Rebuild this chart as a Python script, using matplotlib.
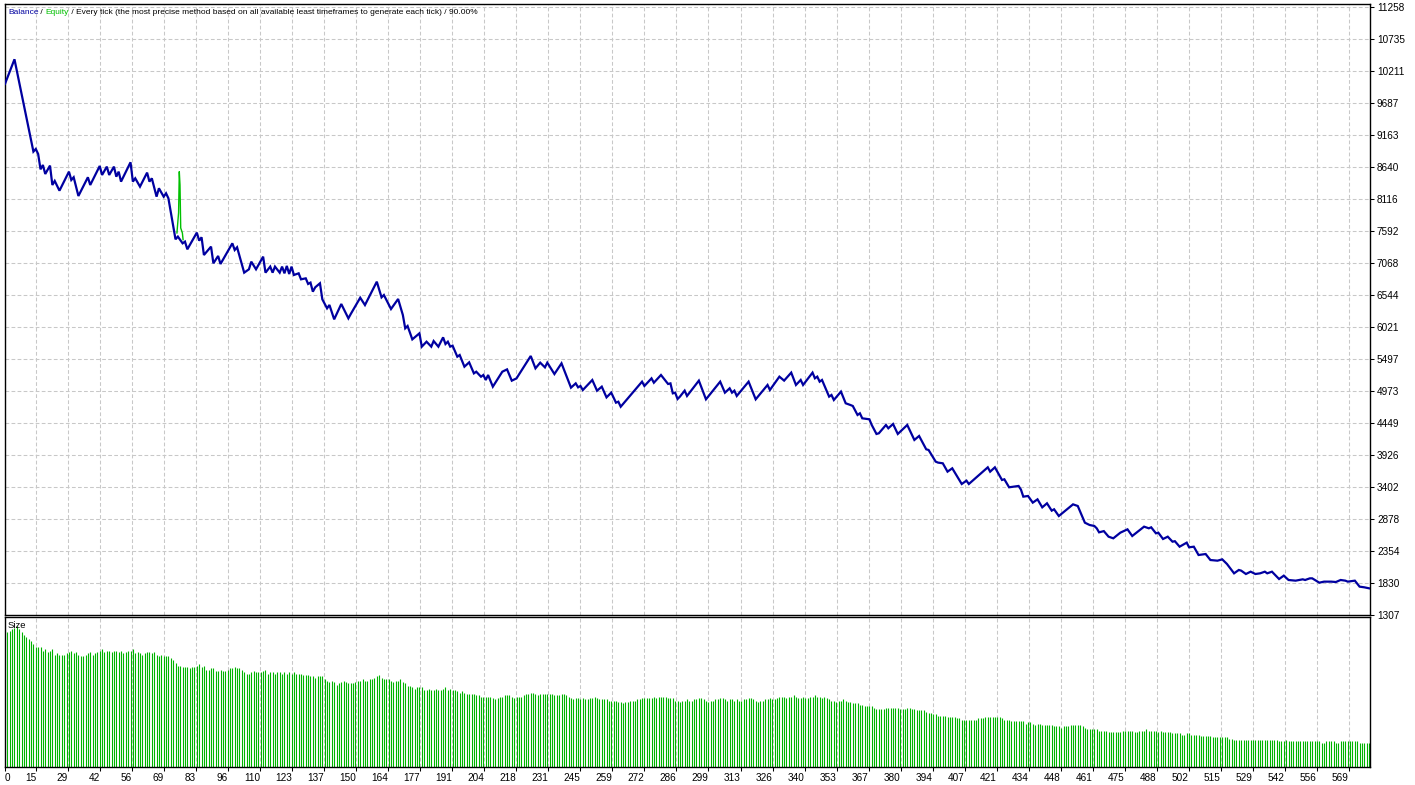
import numpy as np
import matplotlib
matplotlib.use('Agg')
import matplotlib.pyplot as plt

plt.rcParams['font.family'] = ['Liberation Sans', 'DejaVu Sans']

# ---------------- data ----------------
balance_trade = [
    0, 4, 12, 13, 14, 15, 16, 17, 19, 20,
    21, 23, 27, 28, 29, 31, 35, 36, 40, 41,
    43, 44, 46, 47, 48, 49, 53, 54, 55, 57,
    60, 61, 62, 64, 65, 67, 68, 69, 72, 73,
    75, 76, 77, 81, 82, 83, 84, 87, 88, 90,
    91, 96, 97, 98, 101, 103, 104, 106, 109, 110,
    112, 113, 114, 116, 117, 118, 119, 120, 121, 122,
    124, 125, 127, 128, 129, 130, 131, 133, 134, 136,
    137, 139, 142, 145, 146, 150, 152, 157, 159, 160,
    163, 166, 168, 169, 170, 172, 175, 176, 178, 180,
    181, 183, 185, 186, 187, 188, 189, 191, 192, 194,
    196, 198, 199, 201, 202, 203, 204, 206, 210, 212,
    214, 216, 222, 224, 226, 228, 229, 232, 235, 239,
    241, 242, 243, 244, 248, 250, 252, 254, 256, 258,
    259, 260, 269, 270, 273, 274, 277, 280, 281, 282,
    283, 284, 285, 287, 288, 293, 296, 302, 304, 306,
    307, 308, 309, 314, 317, 322, 323, 327, 329, 332,
    334, 336, 337, 341, 342, 343, 344, 345, 348, 349,
    350, 353, 355, 357, 358, 360, 361, 362, 365, 366,
    368, 369, 372, 373, 375, 377, 381, 384, 386, 389,
    390, 393, 394, 396, 398, 400, 404, 406, 407, 415,
    416, 418, 421, 422, 424, 426, 428, 429, 430, 432,
    434, 436, 438, 440, 442, 443, 445, 451, 453, 456,
    458, 460, 461, 462, 464, 466, 468, 471, 474, 476,
    481, 483, 484, 486, 487, 489, 491, 493, 494, 496,
    499, 500, 502, 504, 507, 509, 512, 514, 516, 519,
    521, 522, 524, 526, 528, 530, 532, 533, 535, 538,
    540, 542, 545, 548, 549, 551, 552, 555, 557, 560,
    562, 564, 566, 567, 570, 572, 574, 576,
]
balance_value = [
    10000, 10402, 8891, 8934, 8852, 8601, 8672, 8525, 8662, 8345,
    8411, 8252, 8563, 8427, 8471, 8165, 8471, 8345, 8656, 8509,
    8645, 8509, 8645, 8481, 8563, 8400, 8716, 8400, 8454, 8318,
    8547, 8400, 8454, 8154, 8291, 8154, 8209, 8127, 7456, 7500,
    7390, 7418, 7292, 7565, 7434, 7489, 7199, 7336, 7063, 7183,
    7052, 7390, 7281, 7325, 6910, 6965, 7090, 6965, 7172, 6910,
    7009, 6910, 7009, 6910, 7009, 6899, 7020, 6888, 7009, 6872,
    6899, 6801, 6817, 6725, 6747, 6599, 6670, 6736, 6474, 6326,
    6381, 6146, 6397, 6162, 6233, 6500, 6380, 6762, 6506, 6544,
    6315, 6479, 6217, 5999, 6037, 5818, 5917, 5699, 5780, 5699,
    5791, 5699, 5851, 5742, 5780, 5699, 5715, 5535, 5562, 5371,
    5442, 5262, 5289, 5207, 5235, 5153, 5235, 5044, 5289, 5327,
    5142, 5180, 5546, 5344, 5437, 5360, 5437, 5251, 5426, 5028,
    5098, 5033, 5055, 4989, 5153, 4978, 5044, 4869, 4946, 4782,
    4798, 4716, 5126, 5055, 5180, 5109, 5235, 5088, 5098, 4935,
    4946, 4842, 4881, 4979, 4892, 5143, 4837, 5126, 4946, 5017,
    4946, 4979, 4892, 5126, 4837, 5072, 4990, 5208, 5143, 5274,
    5072, 5154, 5072, 5274, 5181, 5208, 5126, 5154, 4881, 4908,
    4826, 4963, 4772, 4744, 4728, 4581, 4608, 4526, 4510, 4417,
    4270, 4281, 4417, 4363, 4433, 4270, 4417, 4172, 4237, 4019,
    4008, 3817, 3801, 3790, 3653, 3708, 3451, 3506, 3451, 3724,
    3653, 3724, 3517, 3528, 3397, 3408, 3419, 3360, 3244, 3255,
    3146, 3200, 3069, 3135, 3015, 3037, 2927, 3118, 3091, 2818,
    2780, 2764, 2726, 2660, 2680, 2589, 2562, 2655, 2709, 2600,
    2753, 2726, 2742, 2644, 2655, 2551, 2589, 2507, 2515, 2425,
    2491, 2415, 2425, 2289, 2305, 2207, 2196, 2218, 2142, 1989,
    2044, 2033, 1978, 2016, 1978, 1989, 2016, 1989, 2016, 1896,
    1951, 1880, 1869, 1891, 1880, 1907, 1907, 1836, 1853, 1853,
    1847, 1880, 1869, 1853, 1869, 1771, 1760, 1744,
]

# equity deviates visibly from balance only around trade 73-75
equity_trade = [72.6, 73.3, 73.6, 73.9, 74.2, 74.9, 75.2]
equity_value = [7560, 7890, 8563, 8345, 7641, 7560, 7450]

# lot size per trade (x 0.01 lot), trades 1..576
size_x100 = [
    100, 101, 102, 103, 104,
    102, 100, 98, 96, 95, 93, 91, 89,
    89, 89, 86, 87, 85, 86, 87,
    83, 84, 83, 83, 83, 84, 85, 86, 84, 85,
    83, 82, 82, 83, 84, 85, 83, 84, 85, 86,
    87, 85, 86, 86, 85, 86, 86, 85, 86, 84,
    85, 86, 86, 87, 84, 85, 84, 83, 84, 85,
    85, 84, 85, 83, 82, 83, 82, 82, 82, 81,
    79, 77, 75, 75, 74, 74, 74, 73, 74, 74,
    75, 76, 74, 75, 72, 72, 73, 73, 71, 71,
    72, 71, 71, 72, 73, 73, 74, 73, 73, 72,
    70, 69, 69, 70, 71, 70, 70, 70, 71, 72,
    69, 70, 70, 69, 70, 70, 69, 70, 69, 70,
    69, 70, 69, 69, 69, 68, 68, 68, 67, 67,
    66, 67, 67, 67, 65, 64, 63, 64, 63, 61,
    62, 63, 64, 63, 62, 62, 62, 63, 64, 64,
    65, 64, 64, 65, 65, 66, 67, 68, 66, 65,
    65, 65, 64, 63, 64, 64, 65, 63, 62, 60,
    60, 59, 58, 59, 59, 59, 57, 57, 58, 57,
    57, 58, 57, 57, 58, 59, 57, 58, 57, 57,
    56, 55, 56, 55, 54, 54, 54, 54, 53, 53,
    52, 52, 52, 52, 52, 51, 50, 51, 52, 52,
    53, 53, 53, 52, 51, 52, 52, 52, 53, 54,
    54, 55, 55, 54, 53, 54, 54, 54, 54, 54,
    54, 53, 53, 53, 54, 54, 53, 52, 51, 50,
    51, 51, 50, 51, 50, 50, 51, 51, 52, 51,
    50, 50, 50, 50, 49, 49, 49, 49, 48, 48,
    47, 48, 48, 49, 49, 49, 50, 50, 51, 51,
    51, 51, 51, 52, 51, 52, 52, 52, 52, 51,
    51, 51, 49, 49, 48, 49, 49, 50, 49, 49,
    50, 50, 51, 51, 50, 49, 48, 49, 49, 50,
    50, 51, 51, 50, 49, 50, 50, 49, 50, 49,
    49, 50, 50, 51, 51, 50, 49, 48, 49, 49,
    50, 50, 51, 50, 50, 51, 52, 52, 52, 51,
    52, 52, 53, 52, 51, 51, 52, 51, 51, 52,
    52, 53, 52, 52, 51, 52, 51, 50, 49, 49,
    48, 49, 49, 50, 49, 48, 48, 47, 47, 47,
    46, 46, 45, 45, 45, 45, 44, 43, 43, 43,
    43, 44, 44, 44, 44, 44, 44, 43, 43, 43,
    44, 44, 43, 43, 42, 42, 42, 42, 41, 40,
    40, 39, 39, 38, 38, 38, 38, 37, 37, 37,
    37, 36, 36, 35, 35, 35, 35, 35, 35, 35,
    36, 36, 36, 37, 37, 37, 37, 37, 37, 37,
    36, 35, 35, 35, 34, 34, 34, 34, 34, 34,
    32, 33, 33, 32, 31, 32, 32, 31, 31, 31,
    31, 31, 30, 30, 30, 29, 30, 30, 30, 31,
    31, 31, 31, 31, 30, 29, 28, 28, 28, 28,
    28, 27, 27, 27, 27, 26, 26, 26, 26, 26,
    26, 27, 27, 27, 27, 27, 26, 26, 27, 27,
    27, 28, 27, 27, 27, 27, 26, 27, 26, 26,
    26, 26, 25, 25, 25, 25, 24, 24, 25, 25,
    24, 24, 24, 24, 23, 23, 23, 23, 23, 22,
    22, 22, 22, 22, 22, 22, 21, 21, 20, 20,
    20, 20, 20, 20, 20, 20, 20, 20, 20, 20,
    20, 20, 20, 20, 20, 20, 20, 19, 19, 19,
    20, 19, 19, 19, 19, 19, 19, 19, 19, 19,
    19, 19, 19, 19, 19, 18, 18, 19, 19, 19,
    19, 18, 18, 19, 19, 19, 19, 19, 19, 19,
    19, 18, 18, 18, 18, 18,
]

x_tick_labels = ['0', '15', '29', '42', '56', '69', '83', '96', '110', '123', '137',
                 '150', '164', '177', '191', '204', '218', '231', '245', '259', '272',
                 '286', '299', '313', '326', '340', '353', '367', '380', '394', '407',
                 '421', '434', '448', '461', '475', '488', '502', '515', '529', '542',
                 '556', '569']
y_tick_values = [1307, 1830, 2354, 2878, 3402, 3926, 4449, 4973, 5497, 6021,
                 6544, 7068, 7592, 8116, 8640, 9163, 9687, 10211, 10735, 11258]

title_parts = [("Balance", '#0000A0'), (" / ", 'black'), ("Equity", '#00C000'),
               (" / Every tick (the most precise method based on all available least "
                "timeframes to generate each tick) / 90.00%", 'black')]

# ---------------- drawing ----------------
W, H = 1415, 785
fig = plt.figure(figsize=(W / 100, H / 100), dpi=100)
fig.patch.set_facecolor('white')

ax = fig.add_axes([5 / W, 170 / H, 1365 / W, 611 / H])
ax2 = fig.add_axes([5 / W, 18 / H, 1365 / W, 150 / H])

n_trades = len(size_x100)
x_right = n_trades + 0.4
tick_pos = np.concatenate([[0], np.linspace(13.1, 567.5, len(x_tick_labels) - 1)])

grid_kw = dict(color='#C8C8C8', linewidth=0.75, linestyle=(0, (3.6, 2.2)))
BLUE = '#0000A0'
GREEN = '#00C000'

# main panel
ax.plot(equity_trade, equity_value, color=GREEN, lw=1.0, zorder=2)
ax.plot(balance_trade, balance_value, color=BLUE, lw=1.6, zorder=3,
        solid_joinstyle='miter')
ax.set_xlim(0, x_right)
ax.set_ylim(1307, 11307)
ax.set_yticks(y_tick_values)
ax.set_yticklabels([str(v) for v in y_tick_values])
ax.set_xticks(tick_pos)
ax.tick_params(axis='x', length=0, labelbottom=False)
ax.yaxis.tick_right()
ax.tick_params(axis='y', direction='out', length=3, width=0.75, pad=2,
               labelsize=7.2, colors='black')
ax.grid(True, **grid_kw)
ax.set_axisbelow(True)

# size panel
sizes = np.array(size_x100) / 100.0
trades = np.arange(1, n_trades + 1)
ax2.vlines(trades, 0, sizes, color='#00B400', lw=0.8, zorder=2)
ax2.set_xlim(0, x_right)
ax2.set_ylim(0, 1.11)
ax2.set_yticks([])
ax2.set_xticks(tick_pos)
ax2.set_xticklabels(x_tick_labels)
ax2.tick_params(axis='x', direction='out', length=3, width=0.75, pad=1.5,
                labelsize=7.2, colors='black')
for i, lab in enumerate(ax2.get_xticklabels()):
    lab.set_ha('left' if i == 0 else 'right')
ax2.xaxis.grid(True, **grid_kw)
ax2.set_axisbelow(True)

for a in (ax, ax2):
    a.set_facecolor('white')
    for sp in a.spines.values():
        sp.set_linewidth(1.0)
        sp.set_color('black')

# header text, pieces in their own colours
renderer = fig.canvas.get_renderer()
xpix = 8
for txt, col in title_parts:
    t = fig.text(xpix / W, (H - 12.5) / H, txt, color=col, fontsize=6.0,
                 ha='left', va='center')
    bb = t.get_window_extent(renderer)
    xpix = bb.x1

fig.text(8 / W, (H - 625.5) / H, "Size", color='black', fontsize=6.8,
         ha='left', va='center')

fig.savefig('out.png', dpi=100, facecolor='white')
